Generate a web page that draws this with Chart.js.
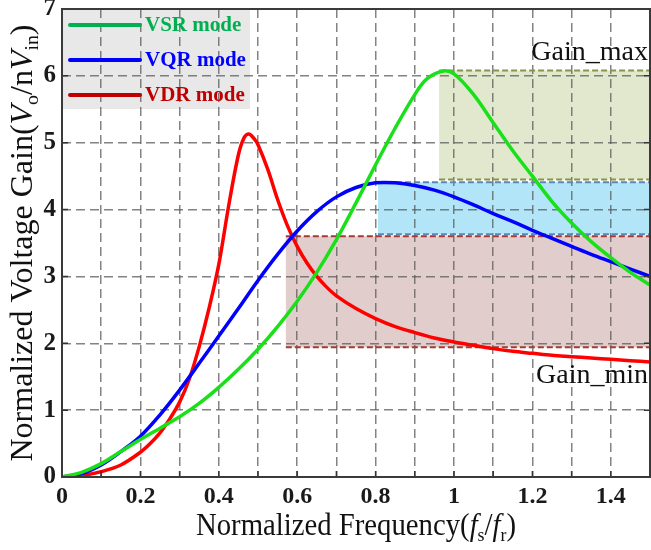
<!DOCTYPE html>
<html>
<head>
<meta charset="utf-8">
<script src="https://cdn.jsdelivr.net/npm/chart.js@4.4.1/dist/chart.umd.min.js"></script>
<style>
  html, body { margin: 0; padding: 0; background: #fff; }
  #wrap { width: 651px; height: 550px; }
</style>
</head>
<body>
<div id="wrap"><canvas id="gain"></canvas></div>
<script>
// Gain curves (x = fs/fr, y = Vo/nVin)
const vsrX = [0, 0.05, 0.1, 0.15, 0.2, 0.25, 0.3, 0.35, 0.4, 0.45, 0.5, 0.55, 0.6, 0.65, 0.7, 0.75, 0.8, 0.85, 0.9, 0.93, 0.97, 1.0, 1.05, 1.1, 1.15, 1.2, 1.25, 1.3, 1.35, 1.4, 1.45, 1.5];
const vsrY = [0, 0.07, 0.2, 0.38, 0.56, 0.73, 0.9, 1.1, 1.34, 1.61, 1.91, 2.25, 2.63, 3.06, 3.55, 4.1, 4.67, 5.22, 5.72, 5.95, 6.07, 6.03, 5.72, 5.3, 4.88, 4.5, 4.12, 3.8, 3.52, 3.28, 3.06, 2.87];

const vqrX = [0, 0.05, 0.1, 0.15, 0.2, 0.25, 0.3, 0.35, 0.4, 0.45, 0.5, 0.55, 0.6, 0.65, 0.7, 0.75, 0.8, 0.85, 0.9, 0.95, 1.0, 1.05, 1.1, 1.15, 1.2, 1.25, 1.3, 1.35, 1.4, 1.45, 1.5];
const vqrY = [0, 0.05, 0.18, 0.38, 0.61, 0.93, 1.3, 1.7, 2.11, 2.52, 2.94, 3.33, 3.68, 3.97, 4.19, 4.33, 4.4, 4.4, 4.36, 4.29, 4.19, 4.07, 3.94, 3.82, 3.69, 3.57, 3.45, 3.33, 3.22, 3.11, 3.0];

const vdrX = [0, 0.05, 0.1, 0.15, 0.2, 0.225, 0.25, 0.275, 0.3, 0.325, 0.35, 0.375, 0.4, 0.425, 0.45, 0.465, 0.477, 0.49, 0.5, 0.525, 0.55, 0.575, 0.6, 0.625, 0.65, 0.675, 0.7, 0.75, 0.8, 0.85, 0.9, 0.95, 1.0, 1.05, 1.1, 1.15, 1.2, 1.25, 1.3, 1.35, 1.4, 1.45, 1.5];
const vdrY = [0, 0.02, 0.08, 0.18, 0.37, 0.5, 0.66, 0.87, 1.12, 1.47, 1.95, 2.52, 3.18, 4.05, 4.82, 5.08, 5.13, 5.06, 4.97, 4.6, 4.15, 3.76, 3.45, 3.2, 3.0, 2.84, 2.71, 2.52, 2.37, 2.25, 2.16, 2.08, 2.02, 1.97, 1.92, 1.88, 1.85, 1.82, 1.8, 1.78, 1.76, 1.74, 1.72];

const seriesNames = ['VSR mode', 'VQR mode', 'VDR mode'];

// Gain bands (start frequency, upper gain, lower gain), one per mode
const bandStart  = [0.962, 0.806, 0.571];
const bandTop    = [6.08, 4.41, 3.60];
const bandBottom = [4.45, 3.63, 1.94];

const xTicks = [0, 0.2, 0.4, 0.6, 0.8, 1, 1.2, 1.4];

// styles
const curveColors  = ['#19e019', '#0000ff', '#ff0000'];
const legendColors = ['#00b050', '#0000ff', '#c00000'];
const bandFill = ['#e1e8cd', '#b3e5f9', '#e2cdcd'];
const bandEdge = ['#86954a', '#5b86b8', '#a33a33'];
const gridColor = 'rgba(90, 90, 90, 0.75)';
const serif = '"Liberation Serif", "Times New Roman", serif';

function pts(xs, ys) {
    return xs.map((x, i) => ({ x: x, y: ys[i] }));
}

// text made of runs [text, italic, subscript]
function richWidth(ctx, runs, size) {
    let w = 0;
    runs.forEach(r => {
        ctx.font = (r[1] ? 'italic ' : '') + (r[2] ? size * 0.62 : size) + 'px ' + serif;
        w += ctx.measureText(r[0]).width;
    });
    return w;
}
function drawRich(ctx, runs, x, y, size) {
    runs.forEach(r => {
        ctx.font = (r[1] ? 'italic ' : '') + (r[2] ? size * 0.62 : size) + 'px ' + serif;
        ctx.fillText(r[0], x, r[2] ? y + size * 0.2 : y);
        x += ctx.measureText(r[0]).width;
    });
}

const bandPlugin = {
    id: 'bands',
    beforeDraw(chart) {
        const { ctx, chartArea: a, scales: { x, y } } = chart;
        ctx.save();
        // legend backdrop, under the grid
        ctx.fillStyle = '#e8e8e8';
        ctx.fillRect(a.left, a.top, 188, 100);
        bandStart.forEach((s, i) => {
            const x0 = x.getPixelForValue(s);
            const y0 = y.getPixelForValue(bandTop[i]);
            const y1 = y.getPixelForValue(bandBottom[i]);
            ctx.fillStyle = bandFill[i];
            ctx.fillRect(x0, y0, a.right - x0, y1 - y0);
        });
        ctx.restore();
    },
    beforeDatasetsDraw(chart) {
        const { ctx, chartArea: a, scales: { x, y } } = chart;
        ctx.save();
        ctx.lineWidth = 2;
        ctx.setLineDash([6, 3]);
        bandStart.forEach((s, i) => {
            const x0 = x.getPixelForValue(s);
            ctx.strokeStyle = bandEdge[i];
            [bandTop[i], bandBottom[i]].forEach(v => {
                const py = y.getPixelForValue(v);
                ctx.beginPath();
                ctx.moveTo(x0, py);
                ctx.lineTo(a.right, py);
                ctx.stroke();
            });
        });
        ctx.restore();
    }
};

const framePlugin = {
    id: 'frame',
    afterDraw(chart) {
        const { ctx, chartArea: a, scales: { x, y } } = chart;
        ctx.save();
        // inward ticks
        ctx.strokeStyle = '#333';
        ctx.lineWidth = 1.5;
        for (let i = 1; i < 15; i++) {
            const px = x.getPixelForValue(i / 10);
            ctx.beginPath();
            ctx.moveTo(px, a.bottom);
            ctx.lineTo(px, a.bottom - 6);
            ctx.stroke();
        }
        for (let v = 1; v < 7; v++) {
            const py = y.getPixelForValue(v);
            ctx.beginPath();
            ctx.moveTo(a.left, py);
            ctx.lineTo(a.left + 6, py);
            ctx.moveTo(a.right, py);
            ctx.lineTo(a.right - 6, py);
            ctx.stroke();
        }
        ctx.strokeStyle = '#3a3a3a';
        ctx.lineWidth = 2;
        ctx.strokeRect(a.left, a.top, a.right - a.left, a.bottom - a.top);

        // legend
        seriesNames.forEach((name, i) => {
            const ly = a.top + 16 + i * 35;
            ctx.strokeStyle = legendColors[i];
            ctx.lineWidth = 4;
            ctx.lineCap = 'round';
            ctx.beginPath();
            ctx.moveTo(a.left + 8, ly);
            ctx.lineTo(a.left + 78, ly);
            ctx.stroke();
            ctx.fillStyle = legendColors[i];
            ctx.font = 'bold 21px ' + serif;
            ctx.textBaseline = 'middle';
            ctx.textAlign = 'left';
            ctx.fillText(name, a.left + 83, ly + 1);
        });

        // band labels
        ctx.fillStyle = '#111';
        ctx.font = '28px ' + serif;
        ctx.textAlign = 'right';
        ctx.textBaseline = 'alphabetic';
        ctx.fillText('Gain_max', a.right - 2, 60);
        ctx.fillText('Gain_min', a.right - 2, 383);

        // axis titles
        ctx.textAlign = 'left';
        const xt = [['Normalized Frequency(', false, false], ['f', true, false], ['s', false, true],
                    ['/', false, false], ['f', true, false], ['r', false, true], [')', false, false]];
        const wx = richWidth(ctx, xt, 31);
        ctx.save();
        ctx.translate((a.left + a.right) / 2, 535);
        ctx.scale(320 / wx, 1);
        drawRich(ctx, xt, -wx / 2, 0, 31);
        ctx.restore();

        const yt = [['Normalized Voltage Gain(', false, false], ['V', true, false], ['o', false, true],
                    ['/n', false, false], ['V', true, false], ['in', false, true], [')', false, false]];
        const wy = richWidth(ctx, yt, 32);
        ctx.translate(32, (a.top + a.bottom) / 2);
        ctx.rotate(-Math.PI / 2);
        drawRich(ctx, yt, -wy / 2, 0, 32);
        ctx.restore();
    }
};

new Chart(document.getElementById('gain'), {
    type: 'scatter',
    data: {
        datasets: [
            { label: seriesNames[0], data: pts(vsrX, vsrY), borderColor: curveColors[0] },
            { label: seriesNames[1], data: pts(vqrX, vqrY), borderColor: curveColors[1] },
            { label: seriesNames[2], data: pts(vdrX, vdrY), borderColor: curveColors[2] }
        ].map(d => Object.assign(d, {
            showLine: true,
            pointRadius: 0,
            borderWidth: 3.5,
            borderCapStyle: 'round',
            tension: 0.35
        }))
    },
    options: {
        responsive: true,
        maintainAspectRatio: false,
        animation: false,
        layout: { padding: { left: 0, top: 9, right: 1, bottom: 0 } },
        plugins: {
            legend: { display: false },
            tooltip: { enabled: false }
        },
        scales: {
            x: {
                type: 'linear',
                min: 0,
                max: 1.5,
                afterFit(s) { s.height = 73; s.paddingLeft = 0; s.paddingRight = 0; },
                afterBuildTicks(s) {
                    s.ticks = [];
                    for (let i = 0; i <= 15; i++) s.ticks.push({ value: i / 10 });
                },
                ticks: {
                    padding: 5,
                    color: '#1a1a1a',
                    font: { family: serif, size: 24, weight: 'bold' },
                    maxRotation: 0,
                    autoSkip: false,
                    callback(v) {
                        const hit = xTicks.find(t => Math.abs(t - v) < 1e-6);
                        return hit === undefined ? '' : String(hit);
                    }
                },
                grid: {
                    drawTicks: false,
                    lineWidth: 1.5,
                    color(c) {
                        const v = c.tick ? c.tick.value : 0;
                        return (v < 0.01 || v > 1.49) ? 'rgba(0,0,0,0)' : gridColor;
                    }
                },
                border: { display: false, dash: [9, 5] }
            },
            y: {
                min: 0,
                max: 7,
                afterFit(s) { s.width = 62; s.paddingTop = 0; s.paddingBottom = 0; },
                ticks: {
                    stepSize: 1,
                    padding: 6,
                    color: '#1a1a1a',
                    font: { family: serif, size: 25, weight: 'bold' }
                },
                grid: {
                    drawTicks: false,
                    lineWidth: 1.5,
                    color(c) {
                        const v = c.tick ? c.tick.value : 0;
                        return (v === 0 || v === 7) ? 'rgba(0,0,0,0)' : gridColor;
                    }
                },
                border: { display: false, dash: [9, 5] }
            }
        }
    },
    plugins: [bandPlugin, framePlugin]
});
</script>
</body>
</html>
